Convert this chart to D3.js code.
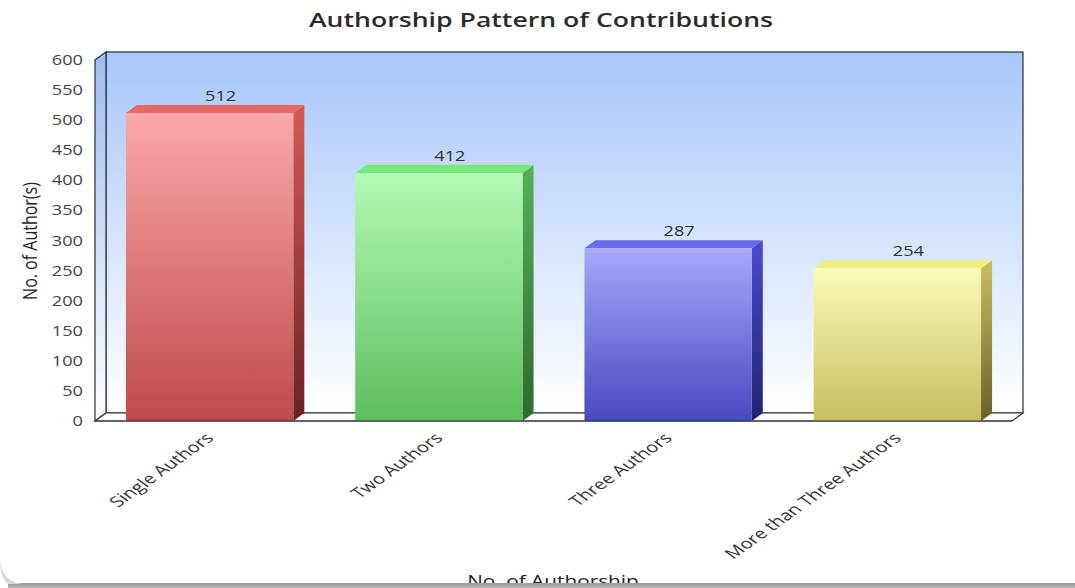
<!DOCTYPE html>
<html>
<head>
<meta charset="utf-8">
<script src="https://cdn.jsdelivr.net/npm/d3@7"></script>
<style>
  html, body { margin: 0; padding: 0; background: #ffffff; }
  svg { display: block; }
</style>
</head>
<body>
<svg id="chart" width="1075" height="588"></svg>
<script>
// Authorship pattern data
const categories = ["Single Authors", "Two Authors", "Three Authors", "More than Three Authors"];
const authorCounts = [512, 412, 287, 254];
const yTicks = [0, 50, 100, 150, 200, 250, 300, 350, 400, 450, 500, 550, 600];
const chartTitle = "Authorship Pattern of Contributions";
const xTitle = "No. of Authorship";
const yTitle = "No. of Author(s)";

// bar palettes: [front top, front bottom, side top, side bottom, top face]
const palettes = [
  ["#fba8a8", "#c04a4a", "#d85858", "#6a2222", "#e86868"],
  ["#b4fab4", "#5ebe5e", "#58b058", "#2c6a2c", "#78e878"],
  ["#a8a8fc", "#4848c0", "#4a4ad0", "#222270", "#6a6aee"],
  ["#fafab8", "#c6c060", "#c8c060", "#66602a", "#eeee80"]
];

const svg = d3.select("#chart");
const defs = svg.append("defs");

const W = 1075, H = 588;
const plotLeft = 95, plotRight = 1012, plotBottom = 421, plotTop = 60;
const depthX = 11, depthY = -8;
// the whole chart is rendered with widened lettering
const SX = 1.3;
const SX_CAT = 1.4;
const FONT = "'Open Sans', sans-serif";

const x = d3.scaleBand().domain(categories).range([plotLeft, plotRight]).padding(0);
const y = d3.scaleLinear().domain([0, 600]).range([plotBottom, plotTop]);
const barW = x.bandwidth() * 0.73;

// card background
svg.append("rect").attr("x", 0).attr("y", 0).attr("width", W).attr("height", H).attr("fill", "#ffffff");

// wall gradients
const wallGrad = defs.append("linearGradient").attr("id", "wall").attr("x1", 0).attr("y1", 0).attr("x2", 0).attr("y2", 1);
wallGrad.append("stop").attr("offset", "0%").attr("stop-color", "#a7c7fa");
wallGrad.append("stop").attr("offset", "100%").attr("stop-color", "#ffffff");
const sideWallGrad = defs.append("linearGradient").attr("id", "sidewall").attr("x1", 0).attr("y1", 0).attr("x2", 0).attr("y2", 1);
sideWallGrad.append("stop").attr("offset", "0%").attr("stop-color", "#9dbdf2");
sideWallGrad.append("stop").attr("offset", "100%").attr("stop-color", "#ffffff");

// back wall
svg.append("rect")
  .attr("x", plotLeft + depthX).attr("y", plotTop + depthY)
  .attr("width", plotRight - plotLeft).attr("height", plotBottom - plotTop)
  .attr("fill", "url(#wall)").attr("stroke", "#2a2f3a").attr("stroke-width", 1.2);

// left wall
svg.append("polygon")
  .attr("points", [[plotLeft, plotTop], [plotLeft + depthX, plotTop + depthY], [plotLeft + depthX, plotBottom + depthY], [plotLeft, plotBottom]].join(" "))
  .attr("fill", "url(#sidewall)").attr("stroke", "#2a2f3a").attr("stroke-width", 1.2);

// floor
svg.append("polygon")
  .attr("points", [[plotLeft, plotBottom], [plotLeft + depthX, plotBottom + depthY], [plotRight + depthX, plotBottom + depthY], [plotRight, plotBottom]].join(" "))
  .attr("fill", "#ffffff").attr("stroke", "#2a2f3a").attr("stroke-width", 1.2);

// gradients per bar
palettes.forEach((p, i) => {
  const gf = defs.append("linearGradient").attr("id", "front" + i).attr("x1", 0).attr("y1", 0).attr("x2", 0).attr("y2", 1);
  gf.append("stop").attr("offset", "0%").attr("stop-color", p[0]);
  gf.append("stop").attr("offset", "100%").attr("stop-color", p[1]);
  const gs = defs.append("linearGradient").attr("id", "side" + i).attr("x1", 0).attr("y1", 0).attr("x2", 0).attr("y2", 1);
  gs.append("stop").attr("offset", "0%").attr("stop-color", p[2]);
  gs.append("stop").attr("offset", "100%").attr("stop-color", p[3]);
});

const bars = svg.append("g").selectAll("g.bar")
  .data(categories.map((c, i) => ({ c, v: authorCounts[i], i })))
  .join("g").attr("class", "bar");

bars.each(function (d) {
  const g = d3.select(this);
  const x0 = x(d.c) + (x.bandwidth() - barW) / 2;
  const x1 = x0 + barW;
  const yt = y(d.v);
  const yb = y(0);
  // side face
  g.append("polygon")
    .attr("points", [[x1, yt], [x1 + depthX, yt + depthY], [x1 + depthX, yb + depthY], [x1, yb]].join(" "))
    .attr("fill", `url(#side${d.i})`);
  // top face
  g.append("polygon")
    .attr("points", [[x0, yt], [x0 + depthX, yt + depthY], [x1 + depthX, yt + depthY], [x1, yt]].join(" "))
    .attr("fill", palettes[d.i][4]);
  // front face
  g.append("rect")
    .attr("x", x0).attr("y", yt).attr("width", barW).attr("height", yb - yt)
    .attr("fill", `url(#front${d.i})`);
  // value label
  g.append("text")
    .attr("transform", `translate(${x0 + barW / 2 + 11},${yt + depthY - 4}) scale(${SX},1)`)
    .attr("text-anchor", "middle")
    .attr("font-family", FONT).attr("font-size", 14)
    .attr("fill", "#333333")
    .text(d.v);
});

// front floor edge redrawn above bars
svg.append("line")
  .attr("x1", plotLeft).attr("x2", plotRight).attr("y1", plotBottom).attr("y2", plotBottom)
  .attr("stroke", "#2a2f3a").attr("stroke-width", 1.2);

// y axis tick labels
svg.append("g").selectAll("text")
  .data(yTicks).join("text")
  .attr("transform", d => `translate(83,${y(d)}) scale(${SX},1)`)
  .attr("dy", "0.36em")
  .attr("text-anchor", "end")
  .attr("font-family", FONT).attr("font-size", 14)
  .attr("fill", "#444444")
  .text(d => d);

// x axis category labels
svg.append("g").selectAll("text")
  .data(categories).join("text")
  .attr("transform", d => `translate(${x(d) + x.bandwidth() / 2 + 5},${plotBottom + 18}) scale(${SX_CAT},1) rotate(-45)`)
  .attr("text-anchor", "end")
  .attr("font-family", FONT).attr("font-size", 14.5)
  .attr("fill", "#333333")
  .text(d => d);

// titles
svg.append("text")
  .attr("transform", `translate(541,27) scale(${SX},1)`)
  .attr("text-anchor", "middle")
  .attr("font-family", FONT).attr("font-size", 20.5).attr("font-weight", 600)
  .attr("fill", "#2b2b2b")
  .text(chartTitle);

svg.append("text")
  .attr("transform", `translate(37,241) scale(${SX},1) rotate(-90)`)
  .attr("text-anchor", "middle")
  .attr("font-family", FONT).attr("font-size", 16)
  .attr("fill", "#222222")
  .text(yTitle);

svg.append("text")
  .attr("transform", `translate(553,587) scale(${SX},1)`)
  .attr("text-anchor", "middle")
  .attr("font-family", FONT).attr("font-size", 16)
  .attr("fill", "#222222")
  .text(xTitle);

// bottom shadow strip of the card
const shadowGrad = defs.append("linearGradient").attr("id", "shadow").attr("x1", 0).attr("y1", 0).attr("x2", 0).attr("y2", 1);
shadowGrad.append("stop").attr("offset", "0%").attr("stop-color", "#9c9c9c");
shadowGrad.append("stop").attr("offset", "100%").attr("stop-color", "#b8b8b8");
svg.append("rect").attr("x", 8).attr("y", 583).attr("width", W - 8).attr("height", 5).attr("fill", "url(#shadow)");
svg.append("path")
  .attr("d", "M0,560 Q2,581 22,584 L8,584 Q0,578 0,560 Z")
  .attr("fill", "#d8d8d8");
</script>
</body>
</html>
